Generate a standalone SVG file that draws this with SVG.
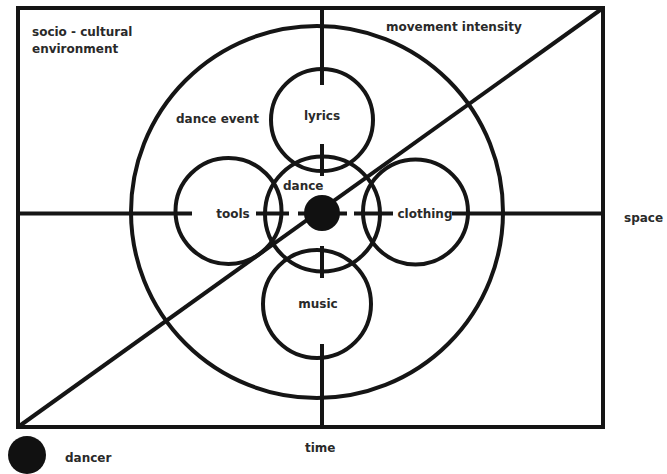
<svg xmlns="http://www.w3.org/2000/svg" width="667" height="474" viewBox="0 0 667 474">
<style>
.l{stroke:#151515;stroke-width:4;fill:none}
.c{stroke:#151515;stroke-width:4;fill:none}
text{font-family:"DejaVu Sans","Verdana",sans-serif;font-weight:bold;font-size:12px;fill:#2a2a2a}
</style>
<rect width="667" height="474" fill="#fff"/>
<g id="frame"><rect class="l" x="18" y="8" width="585" height="419"/></g>
<g id="connectors">
<line class="l" x1="18" y1="427" x2="603" y2="8"/>
<line class="l" x1="18" y1="213.5" x2="192" y2="213.5"/>
<line class="l" x1="256" y1="213.5" x2="289" y2="213.5"/>
<line class="l" x1="298" y1="213.5" x2="347" y2="213.5"/>
<line class="l" x1="354" y1="213.5" x2="393" y2="213.5"/>
<line class="l" x1="452" y1="213.5" x2="603" y2="213.5"/>
<line class="l" x1="322" y1="8" x2="322" y2="85"/>
<line class="l" x1="322" y1="144" x2="322" y2="176"/>
<line class="l" x1="322" y1="246" x2="322" y2="278"/>
<line class="l" x1="322" y1="344" x2="322" y2="427"/>
</g>
<g id="dance-event"><circle class="c" cx="317" cy="212" r="186"/><text x="176" y="123">dance event</text></g>
<g id="lyrics"><circle class="c" cx="322" cy="120" r="51"/><text x="322" y="120" text-anchor="middle">lyrics</text></g>
<g id="tools"><circle class="c" cx="228.5" cy="211" r="53"/><text x="233" y="218" text-anchor="middle">tools</text></g>
<g id="clothing"><circle class="c" cx="415.5" cy="212" r="52.5"/><text x="425" y="218" text-anchor="middle">clothing</text></g>
<g id="music"><circle class="c" cx="317" cy="304" r="54"/><text x="318" y="308" text-anchor="middle">music</text></g>
<g id="dance"><circle class="c" cx="322.5" cy="214" r="57.5"/><text x="283" y="190">dance</text></g>
<g id="dancer-center"><circle cx="322" cy="213" r="18" fill="#111"/></g>
<g id="labels">
<text x="32" y="36">socio - cultural</text>
<text x="32" y="53">environment</text>
<text x="386" y="31">movement intensity</text>
<text x="624" y="222">space</text>
<text x="305" y="452">time</text>
</g>
<g id="legend"><circle cx="27" cy="455" r="19" fill="#111"/><text x="65" y="462">dancer</text></g>
</svg>
